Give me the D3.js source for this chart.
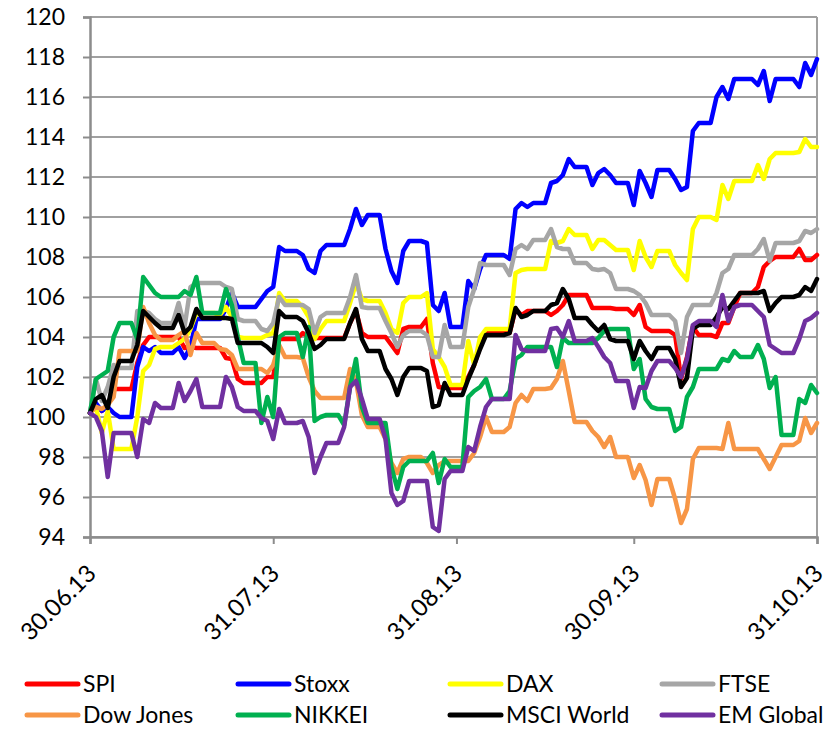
<!DOCTYPE html>
<html>
<head>
<meta charset="utf-8">
<script src="https://cdn.jsdelivr.net/npm/d3@7"></script>
<style>
  html, body { margin: 0; padding: 0; background: #fff; }
  svg { display: block; font-family: Lato, "Open Sans", sans-serif; }
</style>
</head>
<body>
<svg id="chart" width="839" height="730"></svg>
<script>
// ---- data (daily, 30.06.13 .. 31.10.13, weekends carry Friday's value as plotted) ----
const startDate = "2013-06-30";
const seriesNames = ["SPI", "Stoxx", "DAX", "FTSE", "Dow Jones", "NIKKEI", "MSCI World", "EM Global"];
const seriesColors = ["#FF0000", "#0000FF", "#FFFF00", "#A6A6A6", "#F79646", "#00B050", "#000000", "#7030A0"];
const yTicks = [94, 96, 98, 100, 102, 104, 106, 108, 110, 112, 114, 116, 118, 120];
const xTickDates = ["2013-06-30", "2013-07-31", "2013-08-31", "2013-09-30", "2013-10-31"];

const spi = [100.2,
  100.6,100.3,100.6,101.4,101.4,101.4,101.4,
  102.7,103.6,104.0,104.0,104.0,104.0,104.0,
  104.0,103.45,103.5,103.45,103.45,103.45,103.45,
  103.45,102.95,102.9,101.9,101.7,101.7,101.7,
  101.7,102.0,102.0,103.9,103.9,103.9,103.9,
  104.2,104.0,103.95,103.95,103.95,103.95,103.95,
  103.95,104.7,105.3,104.2,104.0,104.0,104.0,
  104.0,103.6,103.2,104.4,104.5,104.5,104.5,
  104.9,102.7,101.5,101.45,101.45,101.45,101.45,
  102.0,102.6,103.5,104.2,104.2,104.2,104.2,
  104.2,105.4,105.1,105.3,105.3,105.3,105.3,
  105.1,105.3,105.6,106.1,106.1,106.1,106.1,
  105.45,105.45,105.45,105.45,105.4,105.4,105.4,
  105.1,105.6,104.5,104.3,104.3,104.3,104.3,
  104.1,101.9,103.0,104.5,104.1,104.1,104.1,
  104.0,104.7,104.7,105.5,106.2,106.2,106.2,
  106.5,107.5,107.8,108.0,108.0,108.0,108.0,
  108.4,107.85,107.85,108.1];

const stoxx = [100.2,
  100.7,100.3,100.5,100.2,100.0,100.0,100.0,
  102.5,103.5,103.3,103.5,103.2,103.2,103.2,
  103.5,102.95,103.5,104.9,104.9,104.9,104.9,
  104.9,105.4,106.2,105.5,105.5,105.5,105.5,
  105.9,106.3,106.5,108.5,108.3,108.3,108.3,
  108.1,107.4,107.2,108.3,108.6,108.6,108.6,
  108.6,109.4,110.4,109.6,110.1,110.1,110.1,
  108.4,107.3,106.7,108.3,108.8,108.8,108.8,
  108.7,105.6,105.3,106.2,104.5,104.5,104.5,
  106.8,106.4,107.4,108.1,108.1,108.1,108.1,
  107.9,110.4,110.7,110.5,110.7,110.7,110.7,
  111.7,111.8,112.1,112.9,112.5,112.5,112.5,
  111.6,112.2,112.4,112.1,111.7,111.7,111.7,
  110.6,112.3,111.7,111.0,112.35,112.35,112.35,
  111.9,111.35,111.5,114.3,114.7,114.7,114.7,
  116.0,116.5,115.9,116.9,116.9,116.9,116.9,
  116.6,117.3,115.8,116.9,116.9,116.9,116.9,
  116.5,117.7,117.1,117.9];

const dax = [100.2,
  100.5,99.2,100.3,98.4,98.4,98.4,98.4,
  100.0,102.3,102.6,103.4,103.5,103.5,103.5,
  103.7,103.9,104.4,105.2,105.2,105.2,105.2,
  105.1,105.5,105.0,104.0,103.95,103.95,103.95,
  103.95,104.1,104.2,106.2,105.8,105.8,105.8,
  105.5,105.0,103.9,104.4,104.8,104.8,104.8,
  104.8,105.7,106.7,105.9,105.8,105.8,105.8,
  105.2,104.4,104.2,105.7,106.0,106.0,106.0,
  106.2,103.4,103.0,102.5,101.6,101.6,101.6,
  103.8,102.6,104.0,104.4,104.4,104.4,104.4,
  104.4,107.2,107.35,107.4,107.4,107.4,107.4,
  108.8,108.7,108.8,109.4,109.1,109.1,109.1,
  108.4,108.85,108.85,108.6,108.35,108.35,108.35,
  107.35,108.8,108.0,107.5,108.3,108.3,108.3,
  107.6,107.2,106.85,109.4,110.0,110.0,110.0,
  109.85,111.6,110.9,111.8,111.8,111.8,111.8,
  112.6,111.9,112.9,113.2,113.2,113.2,113.2,
  113.25,113.9,113.5,113.5];

const ftse = [100.2,
  101.9,100.8,101.5,102.6,102.45,102.45,102.45,
  105.3,105.3,105.2,104.9,104.7,104.7,104.7,
  105.7,104.5,106.5,106.7,106.7,106.7,106.7,
  106.7,106.5,106.4,104.9,104.8,104.8,104.8,
  104.4,104.3,104.7,106.0,105.6,105.6,105.6,
  105.6,105.4,104.2,105.0,105.2,105.2,105.2,
  105.2,106.0,107.1,105.5,105.45,105.45,105.45,
  104.8,104.2,103.5,104.1,104.3,104.3,104.3,
  104.1,103.0,103.0,104.6,103.5,103.5,103.5,
  105.5,106.4,107.7,107.6,107.6,107.6,107.6,
  107.1,108.4,108.6,108.4,108.85,108.85,108.85,
  109.4,108.5,108.4,108.4,107.7,107.7,107.7,
  107.4,107.35,107.4,107.2,106.4,106.4,106.4,
  106.3,106.1,105.7,105.1,105.1,105.1,105.1,
  104.8,103.2,105.0,105.6,105.6,105.6,105.6,
  106.2,107.2,107.4,108.1,108.1,108.1,108.1,
  108.4,108.9,107.8,108.7,108.7,108.7,108.7,
  108.8,109.3,109.2,109.4];

const dowJones = [100.2,
  100.5,100.4,100.6,101.0,103.3,103.3,103.3,
  103.3,105.5,104.7,104.1,103.85,103.85,103.85,
  104.1,104.3,103.1,104.2,103.7,103.7,103.7,
  103.4,103.35,103.1,102.4,102.4,102.4,102.4,
  102.4,102.2,102.6,103.6,103.0,103.0,103.0,
  102.95,102.0,101.3,100.95,100.95,100.95,100.95,
  100.95,102.4,101.8,100.1,99.5,99.5,99.5,
  98.9,97.7,97.2,97.9,98.0,98.0,98.0,
  97.7,97.2,97.6,97.8,97.8,97.8,97.8,
  97.8,98.2,99.0,100.0,99.25,99.25,99.25,
  99.5,100.7,101.1,100.8,101.4,101.4,101.4,
  101.45,101.9,102.8,101.3,99.75,99.75,99.75,
  99.3,99.0,98.5,99.0,98.0,98.0,98.0,
  96.95,97.6,96.85,95.6,96.9,96.9,96.9,
  95.9,94.7,95.4,97.9,98.45,98.45,98.45,
  98.45,98.4,99.7,98.4,98.4,98.4,98.4,
  98.4,97.9,97.4,98.0,98.6,98.6,98.6,
  98.8,99.95,99.2,99.7];

const nikkei = [100.2,
  101.9,102.1,102.3,104.0,104.7,104.7,104.7,
  103.9,107.0,106.6,106.2,106.0,106.0,106.0,
  106.0,106.3,106.1,107.0,105.2,105.2,105.2,
  105.2,106.4,105.6,104.0,102.7,102.7,102.7,
  99.7,101.0,100.0,104.0,104.2,104.2,104.2,
  103.0,104.5,99.8,100.0,100.1,100.1,100.1,
  99.6,101.5,102.9,100.5,99.7,99.7,99.7,
  99.7,97.5,96.4,97.5,97.8,97.8,97.8,
  97.8,98.2,96.7,97.9,97.5,97.5,97.5,
  101.0,101.3,101.5,101.9,100.9,100.9,100.9,
  101.3,102.9,103.1,103.5,103.5,103.5,103.5,
  103.5,102.5,103.95,103.7,103.7,103.7,103.7,
  103.7,103.95,104.3,104.4,104.4,104.4,104.4,
  102.4,102.9,100.9,100.5,100.4,100.4,100.4,
  99.3,99.5,101.0,101.5,102.4,102.4,102.4,
  102.4,102.9,102.8,103.3,103.0,103.0,103.0,
  103.6,102.9,101.45,102.0,99.1,99.1,99.1,
  100.9,100.7,101.6,101.2];

const msciWorld = [100.2,
  100.9,101.1,100.45,102.0,102.8,102.8,102.8,
  103.6,105.3,105.0,104.7,104.45,104.45,104.45,
  105.1,104.2,104.5,105.4,104.95,104.95,104.95,
  104.95,104.95,104.9,103.7,103.7,103.7,103.7,
  103.7,103.5,103.2,105.3,105.0,105.0,105.0,
  104.8,104.2,103.4,103.6,103.9,103.9,103.9,
  103.9,104.7,105.4,103.9,103.3,103.3,103.3,
  102.4,101.9,101.1,102.0,102.45,102.45,102.45,
  102.3,100.5,100.6,101.7,101.1,101.1,101.1,
  101.9,102.6,103.4,104.1,104.1,104.1,104.1,
  104.2,105.45,105.0,105.1,105.3,105.3,105.3,
  105.6,105.7,106.4,105.9,104.95,104.95,104.95,
  104.6,104.3,104.6,103.9,103.8,103.8,103.8,
  102.9,103.8,103.3,102.9,103.45,103.45,103.45,
  102.9,101.5,101.95,104.4,104.6,104.6,104.6,
  105.0,105.5,105.4,105.8,106.2,106.2,106.2,
  106.2,106.3,105.3,105.7,106.0,106.0,106.0,
  106.1,106.5,106.3,106.9];

const emGlobal = [100.2,
  100.0,99.3,97.0,99.2,99.2,99.2,99.2,
  98.0,99.9,99.7,100.7,100.45,100.45,100.45,
  101.7,100.8,101.3,101.9,100.5,100.5,100.5,
  100.5,102.0,101.5,100.5,100.3,100.3,100.3,
  99.95,99.8,98.9,100.4,99.7,99.7,99.7,
  99.8,99.0,97.2,98.0,98.7,98.7,98.7,
  99.5,101.5,101.8,100.9,99.9,99.9,99.9,
  98.9,96.2,95.6,95.8,96.8,96.8,96.8,
  96.8,94.5,94.3,96.9,97.3,97.3,97.3,
  98.5,98.3,99.5,100.5,100.9,100.9,100.9,
  100.9,104.1,103.4,103.3,103.3,103.3,103.3,
  104.4,104.45,104.0,104.8,103.8,103.8,103.8,
  103.95,103.5,103.0,102.7,101.8,101.8,101.8,
  100.45,101.5,101.45,102.3,102.8,102.8,102.8,
  102.45,102.0,102.9,104.6,104.8,104.8,104.8,
  104.5,106.1,104.8,105.5,105.6,105.6,105.6,
  105.3,105.0,103.6,103.4,103.2,103.2,103.2,
  103.9,104.8,104.95,105.2];

const seriesValues = [spi, stoxx, dax, ftse, dowJones, nikkei, msciWorld, emGlobal];

// ---- layout ----
const svg = d3.select("#chart");
const plot = { left: 90, right: 817, top: 17, bottom: 537 };
const parse = d3.utcParse("%Y-%m-%d");
const t0 = parse(startDate);
const x = d3.scaleUtc()
  .domain([parse(xTickDates[0]), parse(xTickDates[xTickDates.length - 1])])
  .range([plot.left, plot.right]);
const y = d3.scaleLinear().domain([94, 120]).range([plot.bottom, plot.top]);
const gridColor = "#A0A0A0";
const axisColor = "#8C8C8C";

// gridlines
svg.append("g").selectAll("line").data(yTicks).join("line")
  .attr("x1", plot.left).attr("x2", plot.right)
  .attr("y1", d => y(d)).attr("y2", d => y(d))
  .attr("stroke", gridColor).attr("stroke-width", 2);
// right border
svg.append("line")
  .attr("x1", plot.right).attr("x2", plot.right)
  .attr("y1", plot.top).attr("y2", plot.bottom)
  .attr("stroke", gridColor).attr("stroke-width", 2);

// y axis
const yAxis = svg.append("g").attr("transform", `translate(${plot.left},0)`)
  .call(d3.axisLeft(y).tickValues(yTicks).tickSize(7).tickPadding(18).tickFormat(d3.format("d")));
yAxis.select(".domain").attr("stroke", axisColor).attr("stroke-width", 2.5);
yAxis.selectAll(".tick line").attr("stroke", axisColor).attr("stroke-width", 2);
yAxis.selectAll(".tick text").attr("font-size", 23).attr("fill", "#000")
  .attr("font-family", "Lato, sans-serif");

// x axis
const fmt = d3.utcFormat("%d.%m.%y");
const xAxis = svg.append("g").attr("transform", `translate(0,${plot.bottom})`)
  .call(d3.axisBottom(x).tickValues(xTickDates.map(parse)).tickSize(7).tickFormat(fmt));
xAxis.select(".domain").attr("stroke", axisColor).attr("stroke-width", 2.5);
xAxis.selectAll(".tick line").attr("stroke", axisColor).attr("stroke-width", 2);
xAxis.selectAll(".tick text")
  .attr("font-size", 24).attr("fill", "#000").attr("font-family", "Lato, sans-serif")
  .attr("text-anchor", "end")
  .attr("x", 0).attr("y", 0).attr("dy", 0)
  .attr("transform", "translate(7,38) rotate(-45)");

// lines
const line = d3.line()
  .x((d, i) => x(d3.utcDay.offset(t0, i)))
  .y(d => y(d));
svg.append("g").selectAll("path").data(seriesValues).join("path")
  .attr("d", d => line(d))
  .attr("fill", "none")
  .attr("stroke", (d, i) => seriesColors[i])
  .attr("stroke-width", 4.5)
  .attr("stroke-linejoin", "round")
  .attr("stroke-linecap", "round");

// legend
const legendCols = [25, 236, 448, 660];
const legendRows = [684, 715];
const lg = svg.append("g").selectAll("g").data(seriesNames).join("g")
  .attr("transform", (d, i) => `translate(${legendCols[i % 4]},${legendRows[Math.floor(i / 4)]})`);
lg.append("line").attr("x1", 2).attr("x2", 53).attr("y1", 0).attr("y2", 0)
  .attr("stroke", (d, i) => seriesColors[i]).attr("stroke-width", 5).attr("stroke-linecap", "round");
lg.append("text").attr("x", 58).attr("y", 0).attr("dy", "0.35em")
  .attr("font-size", 23).attr("fill", "#000").text(d => d);
</script>
</body>
</html>
